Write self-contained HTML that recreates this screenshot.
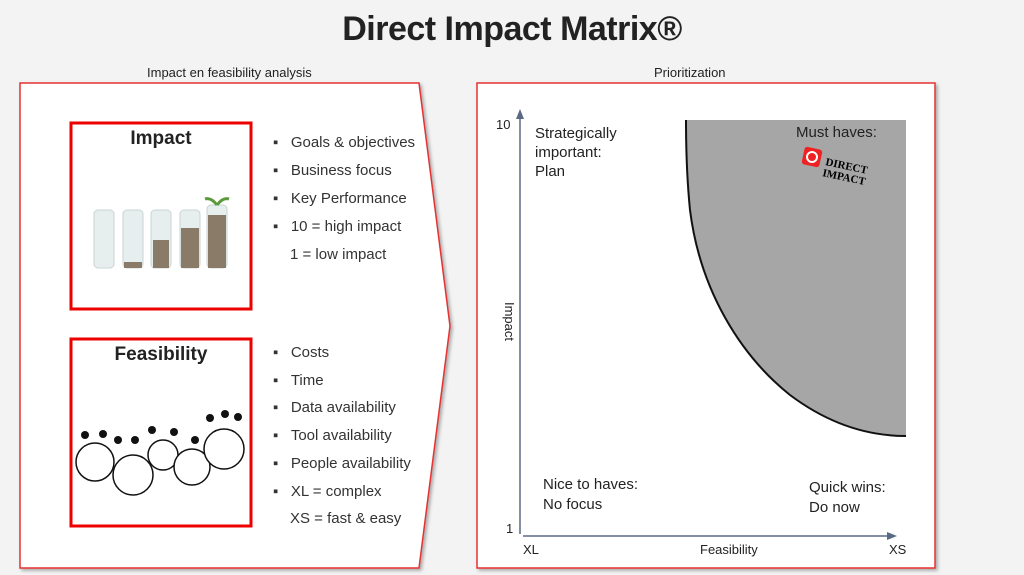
<!DOCTYPE html>
<html><head><meta charset="utf-8"><style>
body{margin:0;width:1024px;height:575px;background:#f3f3f3;font-family:"Liberation Sans",sans-serif;overflow:hidden;position:relative;color:#222}
.a{position:absolute;white-space:nowrap}
</style></head><body>
<div class="a" style="left:0;width:1024px;top:10px;text-align:center;font-size:34px;font-weight:bold;color:#222;letter-spacing:-0.5px">Direct Impact Matrix®</div>
<div class="a" style="left:147px;top:65px;font-size:13px">Impact en feasibility analysis</div>
<div class="a" style="left:654px;top:65px;font-size:13px">Prioritization</div>
<svg class="a" style="left:0;top:0" width="1024" height="575">
<defs><filter id="s"><feDropShadow dx="2" dy="2" stdDeviation="1.5" flood-opacity="0.3"/></filter></defs>
<polygon points="20,83 419,83 450,326 419,568 20,568" fill="#fff" stroke="#e53030" stroke-width="1.5" filter="url(#s)"/>
<rect x="477" y="83" width="458" height="485" fill="#fff" stroke="#e53030" stroke-width="1.5" filter="url(#s)"/>
<rect x="71" y="123" width="180" height="186" fill="none" stroke="#e00" stroke-width="3"/>
<rect x="71" y="339" width="180" height="187" fill="none" stroke="#e00" stroke-width="3"/>
<g fill="#e6eeee" stroke="#c8d4d4">
<rect x="94" y="210" width="20" height="58" rx="4"/><rect x="123" y="210" width="20" height="58" rx="4"/>
<rect x="151" y="210" width="20" height="58" rx="4"/><rect x="180" y="210" width="20" height="58" rx="4"/><rect x="207" y="205" width="20" height="63" rx="4"/></g>
<g fill="#8a7a68"><rect x="153" y="240" width="16" height="28"/><rect x="181" y="228" width="18" height="40"/><rect x="208" y="215" width="18" height="53"/><rect x="124" y="262" width="18" height="6"/></g>
<path d="M217 205 q-6-8-12-6 M217 205 q6-8 12-6" stroke="#5a9a3a" stroke-width="3" fill="none"/>
<g fill="#fff" stroke="#111" stroke-width="1.5">
<circle cx="95" cy="462" r="19"/><circle cx="133" cy="475" r="20"/><circle cx="163" cy="455" r="15"/><circle cx="192" cy="467" r="18"/><circle cx="224" cy="449" r="20"/></g>
<g fill="#111"><circle cx="85" cy="435" r="4"/><circle cx="103" cy="434" r="4"/><circle cx="118" cy="440" r="4"/><circle cx="135" cy="440" r="4"/><circle cx="152" cy="430" r="4"/><circle cx="174" cy="432" r="4"/><circle cx="195" cy="440" r="4"/><circle cx="210" cy="418" r="4"/><circle cx="225" cy="414" r="4"/><circle cx="238" cy="417" r="4"/></g>
<path d="M686 120 L906 120 L906 436 C870 436 830 425 790 395 C740 355 700 290 690 210 C687 180 686 150 686 120 Z" fill="#a6a6a6"/>
<path d="M686 120 C686 150 687 180 690 210 C700 290 740 355 790 395 C830 425 870 436 906 436" fill="none" stroke="#111" stroke-width="2"/>
<line x1="520" y1="534" x2="520" y2="115" stroke="#5a6a85" stroke-width="1.5"/>
<polygon points="520,109 516,119 524,119" fill="#5a6a85"/>
<line x1="523" y1="536" x2="890" y2="536" stroke="#5a6a85" stroke-width="1.5"/>
<polygon points="897,536 887,532 887,540" fill="#5a6a85"/>
<rect x="803" y="148" width="18" height="18" rx="3" fill="#e22" transform="rotate(12 812 157)"/>
<circle cx="812" cy="157" r="5" fill="none" stroke="#fff" stroke-width="2"/>
<text x="825" y="165" font-size="11" font-weight="bold" font-family="Liberation Serif" transform="rotate(12 825 165)">DIRECT</text>
<text x="822" y="176" font-size="11" font-weight="bold" font-family="Liberation Serif" transform="rotate(12 822 176)">IMPACT</text>
</svg>
<div class="a" style="left:71px;width:180px;top:128px;text-align:center;font-size:19px;font-weight:bold">Impact</div>
<div class="a" style="left:71px;width:180px;top:344px;text-align:center;font-size:19px;font-weight:bold">Feasibility</div>
<div class="a" style="left:273px;top:129px;font-size:15px;line-height:28px;color:#333">▪&nbsp;&nbsp;&nbsp;Goals &amp; objectives<br>▪&nbsp;&nbsp;&nbsp;Business focus<br>▪&nbsp;&nbsp;&nbsp;Key Performance<br>▪&nbsp;&nbsp;&nbsp;10 = high impact<br><span style="padding-left:17px">1 = low impact</span></div>
<div class="a" style="left:273px;top:339px;font-size:15px;line-height:27.7px;color:#333">▪&nbsp;&nbsp;&nbsp;Costs<br>▪&nbsp;&nbsp;&nbsp;Time<br>▪&nbsp;&nbsp;&nbsp;Data availability<br>▪&nbsp;&nbsp;&nbsp;Tool availability<br>▪&nbsp;&nbsp;&nbsp;People availability<br>▪&nbsp;&nbsp;&nbsp;XL = complex<br><span style="padding-left:17px">XS = fast &amp; easy</span></div>
<div class="a" style="left:496px;top:117px;font-size:13px">10</div>
<div class="a" style="left:506px;top:521px;font-size:13px">1</div>
<div class="a" style="left:535px;top:124px;font-size:15px;line-height:19px">Strategically<br>important:<br>Plan</div>
<div class="a" style="left:796px;top:124px;font-size:15px">Must haves:</div>
<div class="a" style="left:543px;top:475px;font-size:15px;line-height:19.5px">Nice to haves:<br>No focus</div>
<div class="a" style="left:809px;top:478px;font-size:15px;line-height:19.5px">Quick wins:<br>Do now</div>
<div class="a" style="left:523px;top:542px;font-size:13px">XL</div>
<div class="a" style="left:700px;top:542px;font-size:13px">Feasibility</div>
<div class="a" style="left:889px;top:542px;font-size:13px">XS</div>
<div class="a" style="left:490px;top:314px;font-size:13px;transform:rotate(90deg);transform-origin:center">Impact</div>
</body></html>
